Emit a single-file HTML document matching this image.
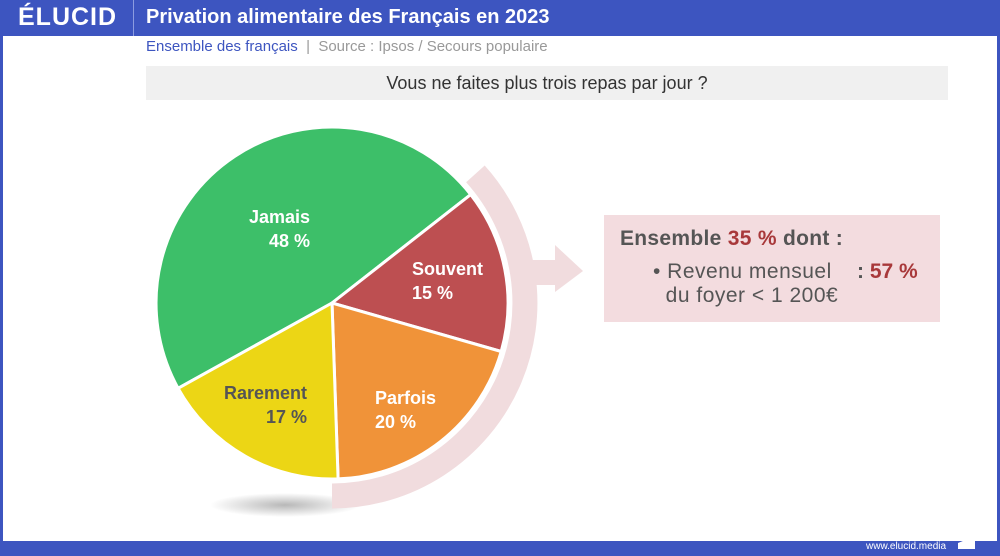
<!DOCTYPE html>
<html><head><meta charset="utf-8"><style>
body{margin:0;width:1000px;height:556px;overflow:hidden;background:#fff;font-family:"Liberation Sans",sans-serif;position:relative}
.abs{position:absolute}
</style></head><body>
<div class="abs" style="left:0;top:0;width:1000px;height:556px;background:#3d55c0"></div>
<div class="abs" style="left:3px;top:36px;width:994px;height:505px;background:#fff"></div>
<div class="abs" style="left:18px;top:3px;font-size:25px;font-weight:bold;color:#fff;letter-spacing:1px">ÉLUCID</div>
<div class="abs" style="left:133px;top:0;width:1px;height:36px;background:#8c9ce0"></div>
<div class="abs" style="left:146px;top:6px;font-size:20px;font-weight:bold;color:#fff">Privation alimentaire des Français en 2023</div>
<div class="abs" style="left:146px;top:38px;font-size:15px;color:#3d55c0">Ensemble des français <span style="color:#999">&nbsp;|&nbsp; Source : Ipsos / Secours populaire</span></div>
<div class="abs" style="left:146px;top:66px;width:802px;height:34px;background:#f0f0f0;text-align:center;line-height:34px;font-size:18px;color:#333">Vous ne faites plus trois repas par jour ?</div>
<svg class="abs" style="left:0;top:0" width="1000" height="556">
<defs><radialGradient id="sh"><stop offset="0" stop-color="#999" stop-opacity=".7"/><stop offset="1" stop-color="#999" stop-opacity="0"/></radialGradient></defs>
<ellipse cx="285" cy="505" rx="75" ry="12" fill="url(#sh)"/>
<path d="M475.4 173.9 A193 193 0 0 1 332 496" fill="none" stroke="#f1dcde" stroke-width="25"/>
<rect x="515" y="260" width="42" height="25" fill="#f1dcde"/>
<polygon points="555,245 583,271 555,292" fill="#f1dcde"/>
<g stroke="#fff" stroke-width="3" stroke-linejoin="round">
<path d="M332 303 L178.1 388.3 A176 176 0 0 1 470.7 194.6 Z" fill="#3dbf69"/>
<path d="M332 303 L470.7 194.6 A176 176 0 0 1 501.2 351.5 Z" fill="#bd4f51"/>
<path d="M332 303 L501.2 351.5 A176 176 0 0 1 338.1 478.9 Z" fill="#f09339"/>
<path d="M332 303 L338.1 478.9 A176 176 0 0 1 178.1 388.3 Z" fill="#ecd615"/>
</g>
<g font-family="Liberation Sans" font-weight="bold" font-size="18">
<text x="310" y="223" text-anchor="end" fill="#fff">Jamais</text>
<text x="310" y="247" text-anchor="end" fill="#fff">48 %</text>
<text x="412" y="275" fill="#fff">Souvent</text>
<text x="412" y="299" fill="#fff">15 %</text>
<text x="375" y="404" fill="#fff">Parfois</text>
<text x="375" y="428" fill="#fff">20 %</text>
<text x="307" y="399" text-anchor="end" fill="#555">Rarement</text>
<text x="307" y="423" text-anchor="end" fill="#555">17 %</text>
</g>
<polygon points="958,543 975,536 975,549 958,549" fill="#fff"/>
</svg>
<div class="abs" style="left:604px;top:215px;width:336px;height:107px;background:#f3dcdf"></div>
<div class="abs" style="left:620px;top:227px;font-size:21px;color:#555;font-weight:bold;letter-spacing:0.3px">Ensemble <span style="color:#a8383a">35 %</span> dont :</div>
<div class="abs" style="left:653px;top:260px;font-size:21px;color:#555;line-height:24px;letter-spacing:0.5px">• Revenu mensuel<br>&nbsp;&nbsp;du foyer &lt; 1 200€</div>
<div class="abs" style="left:857px;top:260px;font-size:21px;color:#555;font-weight:bold">: <span style="color:#a8383a">57 %</span></div>
<div class="abs" style="left:866px;top:541px;font-size:10px;color:#fff">www.elucid.media</div>
</body></html>
